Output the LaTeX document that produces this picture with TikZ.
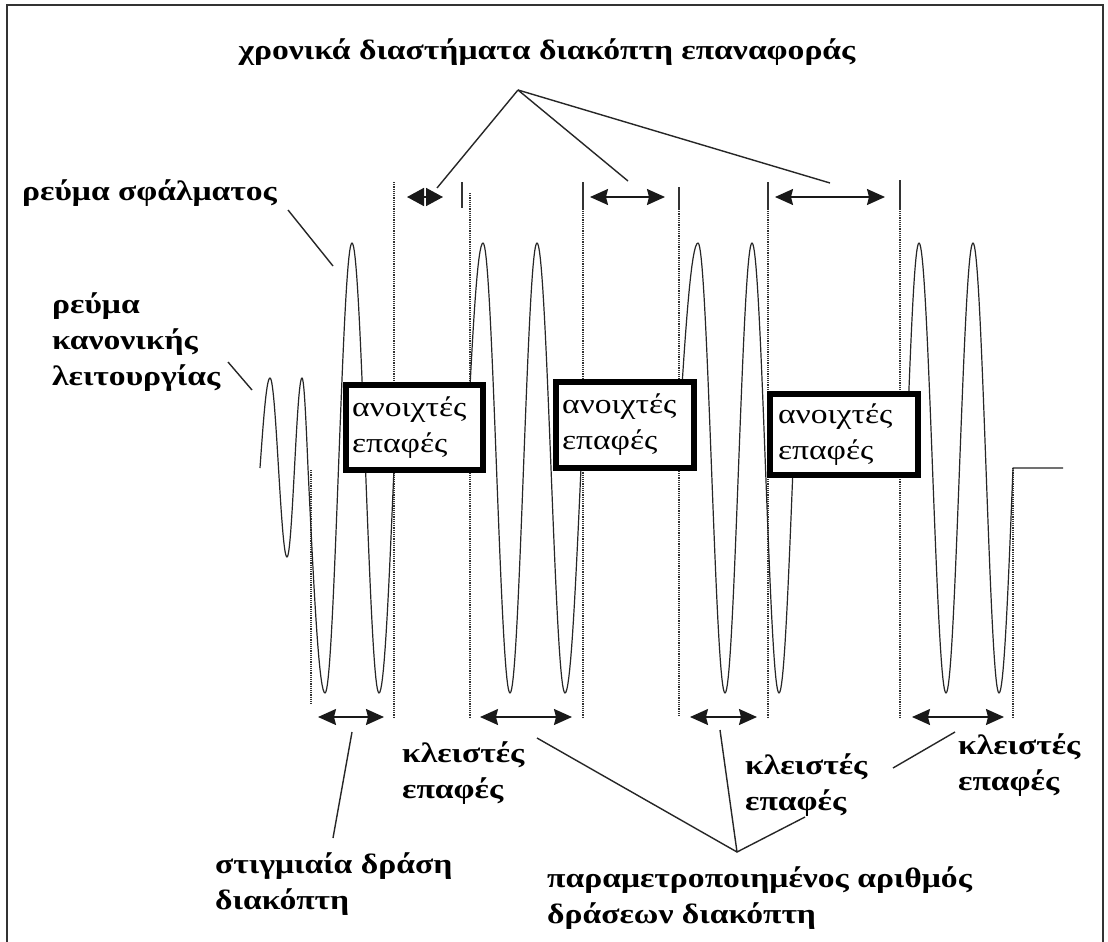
\documentclass[tikz,border=0pt]{standalone}
\usepackage{fontspec}
\setmainfont[FakeStretch=1.2]{Liberation Serif}
\usetikzlibrary{arrows.meta}

% quarter wave from an extremum (#1,#2) down/up to the zero line at x=#3
\newcommand\tozero[3]{-- plot[domain=0:90,samples=18] ({#1+(#3-#1)*\x/90},{#2+(468-#2)*(1-cos(\x))})}
% quarter wave from the zero line at x=#1 to an extremum (#2,#3)
\newcommand\toext[3]{-- plot[domain=0:90,samples=18] ({#1+(#2-#1)*\x/90},{468+(#3-468)*sin(\x)})}

\begin{document}
\begin{tikzpicture}[x=1pt,y=-1pt,
  wave/.style={line width=1.2pt, black!85, line join=round},
  guide/.style={line width=1.2pt, densely dotted, black!80},
  tick/.style={line width=1.5pt, black!80},
  lead/.style={line width=1.4pt, black!85},
  span/.style={line width=1.6pt, black!90,
    {Stealth[length=18pt,width=16pt,inset=2pt]}-{Stealth[length=18pt,width=16pt,inset=2pt]}},
  shortspan/.style={line width=1.6pt, black!90,
    {Stealth[length=17pt,width=18pt,inset=0pt]}-{Stealth[length=17pt,width=18pt,inset=0pt]}},
  lbl/.style={font=\fontsize{28}{36}\selectfont\bfseries, inner sep=0pt, align=left, anchor=west},
  contact/.style={draw, line width=6pt, fill=white, align=left, inner ysep=0pt,
    font=\fontsize{28}{36}\selectfont},
]
\useasboundingbox (0,0) rectangle (1108,942);
\fill[white] (0,0) rectangle (1108,942);

% frame
\draw[line width=2pt, black!80] (7,942) -- (7,5) -- (1103,5) -- (1103,942);

% guide lines marking switching instants
\draw[guide] (311,470) -- (311,705);
\draw[guide] (394,182) -- (394,718);
\draw[guide] (470,193) -- (470,718);
\draw[guide] (583,182) -- (583,718);
\draw[guide] (679,187) -- (679,716);
\draw[guide] (768,182) -- (768,718);
\draw[guide] (900,180) -- (900,718);
\draw[guide] (1013,468) -- (1013,718);

% solid ticks at the top of the guides
\draw[tick] (462,182) -- (462,208);
\draw[tick] (583,182) -- (583,210);
\draw[tick] (679,187) -- (679,210);
\draw[tick] (768,182) -- (768,210);
\draw[tick] (900,180) -- (900,210);

% current waveform: normal current, then fault current with reclosing shots
\draw[wave] (260,468)
  \toext{260}{270}{378} \tozero{270}{378}{278.5}
  \toext{278.5}{287}{557} \tozero{287}{557}{294.5}
  \toext{294.5}{302}{378} \tozero{302}{378}{308}
  \toext{308}{325}{693} \tozero{325}{693}{338.5}
  \toext{338.5}{352}{243} \tozero{352}{243}{365.5}
  \toext{365.5}{379}{693} \tozero{379}{693}{394};
\draw[wave] (466,468)
  \toext{466}{483}{243} \tozero{483}{243}{496.5}
  \toext{496.5}{510}{693} \tozero{510}{693}{523.5}
  \toext{523.5}{537}{243} \tozero{537}{243}{551}
  \toext{551}{565}{693} \tozero{565}{693}{581};
\draw[wave] (677,468)
  \toext{677}{698}{243} \tozero{698}{243}{711.5}
  \toext{711.5}{725}{693} \tozero{725}{693}{738.5}
  \toext{738.5}{752}{243} \tozero{752}{243}{765.5}
  \toext{765.5}{779}{693} \tozero{779}{693}{793};
\draw[wave] (906,468)
  \toext{906}{919}{243} \tozero{919}{243}{932.5}
  \toext{932.5}{946}{693} \tozero{946}{693}{959.5}
  \toext{959.5}{973}{243} \tozero{973}{243}{986}
  \toext{986}{999}{693} \tozero{999}{693}{1013} -- (1063,468);

% open-contact boxes
\node[contact, minimum width=137pt, minimum height=85pt, inner xsep=6pt, text width=125pt]
  (box1) at (414.5,427.5) {ανοιχτές\\επαφές};
\node[contact, minimum width=138pt, minimum height=86pt, inner xsep=6pt, text width=126pt]
  (box2) at (625,425) {ανοιχτές\\επαφές};
\node[contact, minimum width=148pt, minimum height=81pt, inner xsep=8pt, text width=132pt]
  (box3) at (844,434.5) {ανοιχτές\\επαφές};

% reclosing intervals (top)
\coordinate (ra1) at (407,197); \coordinate (rb1) at (443,197);
\coordinate (ra2) at (590,197); \coordinate (rb2) at (665,197);
\coordinate (ra3) at (775,197); \coordinate (rb3) at (885,197);
\draw[shortspan] (ra1) -- (rb1);
\draw[span] (ra2) -- (rb2);
\draw[span] (ra3) -- (rb3);

% closed-contact intervals (bottom)
\coordinate (ca1) at (318,717); \coordinate (cb1) at (384,717);
\coordinate (ca2) at (480,717); \coordinate (cb2) at (572,717);
\coordinate (ca3) at (690,717); \coordinate (cb3) at (757,717);
\coordinate (ca4) at (912,717); \coordinate (cb4) at (1004,717);
\draw[span] (ca1) -- (cb1);
\draw[span] (ca2) -- (cb2);
\draw[span] (ca3) -- (cb3);
\draw[span] (ca4) -- (cb4);

% labels
\node[lbl, anchor=center] (title) at (547,52) {χρονικά διαστήματα διακόπτη επαναφοράς};
\node[lbl] (fault) at (22,193) {ρεύμα σφάλματος};
\node[lbl] (normal) at (52,342) {ρεύμα\\κανονικής\\λειτουργίας};
\node[lbl] (kl1) at (402,773) {κλειστές\\επαφές};
\node[lbl] (kl2) at (745,785) {κλειστές\\επαφές};
\node[lbl] (kl3) at (958,765) {κλειστές\\επαφές};
\node[lbl] (stig) at (215,884) {στιγμιαία δράση\\διακόπτη};
\node[lbl] (param) at (547,898) {παραμετροποιημένος αριθμός\\δράσεων διακόπτη};

% leader lines
\coordinate (tapex) at (518,90);
\coordinate (t1) at (437,188);
\coordinate (t2) at (628,181);
\coordinate (t3) at (830,183);
\draw[lead] (tapex) -- (t1);
\draw[lead] (tapex) -- (t2);
\draw[lead] (tapex) -- (t3);

\coordinate (f0) at (288,210); \coordinate (f1) at (333,266);
\draw[lead] (f0) -- (f1);
\coordinate (n0) at (228,362); \coordinate (n1) at (252,390);
\draw[lead] (n0) -- (n1);
\coordinate (s0) at (352,732); \coordinate (s1) at (333,838);
\draw[lead] (s0) -- (s1);

\coordinate (papex) at (737,852);
\coordinate (p1) at (537,738);
\coordinate (p2) at (720,730);
\coordinate (p3) at (805,817);
\draw[lead] (p1) -- (papex) -- (p3);
\draw[lead] (p2) -- (papex);

\coordinate (k0) at (893,768); \coordinate (k1) at (955,732);
\draw[lead] (k0) -- (k1);
\end{tikzpicture}
\end{document}
